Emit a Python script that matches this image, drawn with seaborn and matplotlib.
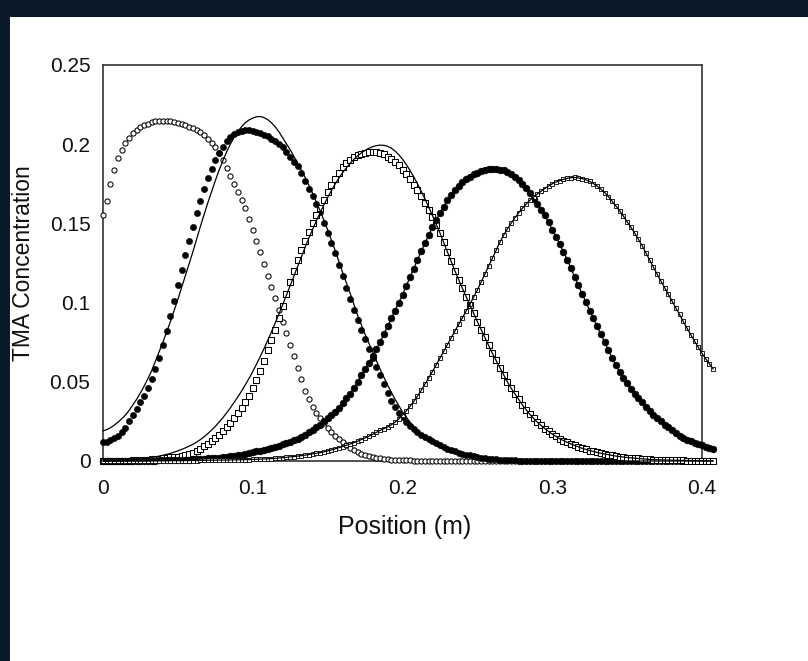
import numpy as np
import matplotlib
matplotlib.use("Agg")
import matplotlib.pyplot as plt
import seaborn as sns
from matplotlib.patches import Rectangle
from matplotlib.ticker import MultipleLocator, FuncFormatter

position = np.round(np.arange(164) * 0.0025, 4)

# Each row below covers 0.025 m (10 readings); last row has 4 readings (0.400-0.4075)

# Pulse 1 - open circles (data)
pulse1 = ([0.155, 0.164, 0.175, 0.184, 0.191, 0.1965, 0.201, 0.204, 0.207, 0.209,
           0.211, 0.212, 0.213, 0.2138, 0.2145, 0.2148, 0.2148, 0.2148, 0.2145, 0.2142,
           0.2135, 0.2128, 0.212, 0.211, 0.210, 0.2088, 0.2075, 0.2055, 0.203, 0.2005,
           0.198, 0.1945, 0.190, 0.185, 0.180, 0.175, 0.170, 0.165, 0.160, 0.153,
           0.146, 0.139, 0.132, 0.1245, 0.117, 0.110, 0.103, 0.0955, 0.088, 0.0805,
           0.073, 0.066, 0.059, 0.0515, 0.0445, 0.039, 0.034, 0.0305, 0.027, 0.024,
           0.021, 0.0185, 0.016, 0.014, 0.012, 0.010, 0.0085, 0.007, 0.0058, 0.0047,
           0.0038, 0.0031, 0.0025, 0.002, 0.0016, 0.0013, 0.001, 0.0008, 0.0007, 0.0006,
           0.0005, 0.0004, 0.0004, 0.0003, 0.0003, 0.0002, 0.0002, 0.0002, 0.0001, 0.0001,
           0.0001, 0.0001] + [0.0] * 72)

# Pulse 2 - filled markers (data)
pulse2 = ([0.012, 0.0123, 0.013, 0.0143, 0.016, 0.018, 0.021, 0.025, 0.029, 0.033,
           0.037, 0.0413, 0.046, 0.0518, 0.058, 0.065, 0.073, 0.082, 0.0915, 0.101,
           0.111, 0.1205, 0.130, 0.139, 0.148, 0.1565, 0.164, 0.1715, 0.1785, 0.1845,
           0.190, 0.1945, 0.1985, 0.2018, 0.2045, 0.2063, 0.2075, 0.2085, 0.209, 0.209,
           0.2085, 0.2078, 0.207, 0.206, 0.205, 0.2035, 0.202, 0.200, 0.198, 0.195,
           0.192, 0.189, 0.186, 0.1818, 0.177, 0.172, 0.167, 0.162, 0.157, 0.1505,
           0.144, 0.1375, 0.131, 0.124, 0.117, 0.1095, 0.102, 0.0955, 0.089, 0.083,
           0.077, 0.071, 0.065, 0.0595, 0.054, 0.0485, 0.043, 0.038, 0.034, 0.0305,
           0.0275, 0.0247, 0.022, 0.020, 0.018, 0.0165, 0.015, 0.0137, 0.0125, 0.0112,
           0.010, 0.0089, 0.0078, 0.0069, 0.006, 0.0053, 0.0046, 0.004, 0.0035, 0.003,
           0.0025, 0.0021, 0.0018, 0.0015, 0.0013, 0.0011, 0.0009, 0.0007, 0.0006, 0.0005,
           0.0004, 0.0003, 0.0003, 0.0002, 0.0002, 0.0001, 0.0001, 0.0, 0.0, 0.0]
          + [0.0] * 44)

# Pulse 2 - model (solid line)
model2 = ([0.019, 0.0198, 0.021, 0.0226, 0.0245, 0.0266, 0.029, 0.032, 0.0355, 0.039,
           0.043, 0.0473, 0.052, 0.057, 0.063, 0.069, 0.075, 0.0815, 0.088, 0.095,
           0.102, 0.1095, 0.117, 0.1245, 0.132, 0.140, 0.148, 0.1555, 0.163, 0.170,
           0.177, 0.1835, 0.1895, 0.195, 0.200, 0.2043, 0.208, 0.211, 0.2135, 0.2153,
           0.2165, 0.2173, 0.2175, 0.2168, 0.2155, 0.2135, 0.211, 0.2078, 0.204, 0.2003,
           0.1965, 0.1923, 0.188, 0.1835, 0.179, 0.174, 0.169, 0.1635, 0.158, 0.152,
           0.146, 0.1395, 0.133, 0.126, 0.119, 0.1125, 0.106, 0.099, 0.092, 0.086,
           0.080, 0.0745, 0.069, 0.0635, 0.058, 0.053, 0.048, 0.0435, 0.039, 0.035,
           0.031, 0.0277, 0.0245, 0.0217, 0.019, 0.017, 0.015, 0.013, 0.011, 0.0097,
           0.0085, 0.0075, 0.0065, 0.0056, 0.0048, 0.0041, 0.0035, 0.003, 0.0025, 0.0021,
           0.0018, 0.0015, 0.0013, 0.0011, 0.0009, 0.0007, 0.0006, 0.0005, 0.0004, 0.0003,
           0.0003, 0.0002, 0.0002, 0.0001, 0.0001, 0.0, 0.0, 0.0, 0.0, 0.0]
          + [0.0] * 44)

# Pulse 3 - open squares (data)
pulse3 = [0.0, 0.0, 0.0, 0.0001, 0.0001, 0.0001, 0.0002, 0.0003, 0.0004, 0.0005,
          0.0006, 0.0007, 0.0009, 0.0011, 0.0013, 0.0015, 0.0018, 0.002, 0.0023, 0.0025,
          0.0028, 0.0032, 0.0036, 0.0042, 0.005, 0.0062, 0.0076, 0.0092, 0.011, 0.0126,
          0.0143, 0.0165, 0.019, 0.0215, 0.024, 0.027, 0.030, 0.0333, 0.037, 0.0413,
          0.046, 0.0513, 0.057, 0.0633, 0.070, 0.0765, 0.083, 0.0903, 0.098, 0.1055,
          0.113, 0.120, 0.127, 0.133, 0.139, 0.1447, 0.150, 0.155, 0.160, 0.165,
          0.170, 0.174, 0.178, 0.182, 0.1855, 0.188, 0.190, 0.1917, 0.193, 0.1939,
          0.1945, 0.1948, 0.195, 0.1948, 0.1945, 0.1935, 0.192, 0.1905, 0.189, 0.1867,
          0.184, 0.181, 0.178, 0.1745, 0.171, 0.167, 0.163, 0.1585, 0.154, 0.149,
          0.144, 0.138, 0.132, 0.126, 0.120, 0.1145, 0.109, 0.1037, 0.0985, 0.0932,
          0.088, 0.083, 0.078, 0.073, 0.068, 0.0635, 0.059, 0.0545, 0.050, 0.046,
          0.0425, 0.039, 0.0355, 0.0325, 0.0295, 0.027, 0.0245, 0.0225, 0.0205, 0.0187,
          0.017, 0.0155, 0.014, 0.0129, 0.0118, 0.0108, 0.0098, 0.0089, 0.008, 0.0073,
          0.0066, 0.006, 0.0054, 0.0049, 0.0044, 0.004, 0.0035, 0.0031, 0.0028, 0.0025,
          0.0022, 0.002, 0.0018, 0.0016, 0.0014, 0.0012, 0.001, 0.0009, 0.0008, 0.0007,
          0.0006, 0.0006, 0.0005, 0.0005, 0.0004, 0.0004, 0.0003, 0.0003, 0.0002, 0.0002,
          0.0002, 0.0001, 0.0001, 0.0001]

# Pulse 3 - model (solid line)
model3 = [0.0, 0.0, 0.0001, 0.0001, 0.0002, 0.0003, 0.0004, 0.0005, 0.0007, 0.0009,
          0.0012, 0.0015, 0.0018, 0.0022, 0.0026, 0.0031, 0.0036, 0.0042, 0.0048, 0.0056,
          0.0064, 0.0073, 0.0083, 0.0094, 0.0105, 0.0119, 0.0135, 0.0153, 0.0173, 0.0195,
          0.0219, 0.0245, 0.0273, 0.0303, 0.0335, 0.0369, 0.0404, 0.0441, 0.048, 0.0521,
          0.0565, 0.0611, 0.0659, 0.0709, 0.0761, 0.0815, 0.0871, 0.0928, 0.0987, 0.1047,
          0.1107, 0.1168, 0.1229, 0.129, 0.135, 0.1408, 0.1463, 0.1516, 0.1567, 0.1616,
          0.1663, 0.1707, 0.1748, 0.1786, 0.182, 0.1851, 0.1879, 0.1904, 0.1926, 0.1945,
          0.1961, 0.1974, 0.1984, 0.1991, 0.1994, 0.1993, 0.1987, 0.1975, 0.1957, 0.1934,
          0.1905, 0.1872, 0.1835, 0.1794, 0.175, 0.1703, 0.1655, 0.1603, 0.155, 0.1495,
          0.144, 0.138, 0.132, 0.126, 0.120, 0.1145, 0.109, 0.1037, 0.0985, 0.0932,
          0.088, 0.083, 0.078, 0.073, 0.068, 0.0635, 0.059, 0.0545, 0.050, 0.046,
          0.0425, 0.039, 0.0355, 0.0325, 0.0295, 0.027, 0.0245, 0.0225, 0.0205, 0.0187,
          0.017, 0.0155, 0.014, 0.0129, 0.0118, 0.0108, 0.0098, 0.0089, 0.008, 0.0073,
          0.0066, 0.006, 0.0054, 0.0049, 0.0044, 0.004, 0.0035, 0.0031, 0.0028, 0.0025,
          0.0022, 0.002, 0.0018, 0.0016, 0.0014, 0.0012, 0.001, 0.0009, 0.0008, 0.0007,
          0.0006, 0.0006, 0.0005, 0.0005, 0.0004, 0.0004, 0.0003, 0.0003, 0.0002, 0.0002,
          0.0002, 0.0001, 0.0001, 0.0001]

# Pulse 4 - filled markers (data; model curve coincides)
pulse4 = [0.0, 0.0, 0.0, 0.0, 0.0, 0.0, 0.0, 0.0, 0.0001, 0.0001,
          0.0001, 0.0002, 0.0002, 0.0003, 0.0003, 0.0004, 0.0004, 0.0005, 0.0005, 0.0006,
          0.0006, 0.0007, 0.0008, 0.0009, 0.001, 0.0011, 0.0012, 0.0014, 0.0016, 0.0018,
          0.002, 0.0022, 0.0025, 0.0027, 0.003, 0.0033, 0.0036, 0.004, 0.0045, 0.005,
          0.0055, 0.006, 0.0066, 0.0072, 0.0078, 0.0084, 0.009, 0.0097, 0.0105, 0.0113,
          0.0122, 0.0132, 0.0142, 0.0153, 0.0165, 0.018, 0.0195, 0.0212, 0.023, 0.025,
          0.027, 0.029, 0.031, 0.0337, 0.0365, 0.0395, 0.0425, 0.046, 0.050, 0.054,
          0.058, 0.062, 0.066, 0.0705, 0.075, 0.080, 0.085, 0.090, 0.095, 0.100,
          0.105, 0.1105, 0.116, 0.1215, 0.127, 0.1323, 0.1375, 0.1426, 0.1475, 0.1521,
          0.1565, 0.1606, 0.1645, 0.1679, 0.171, 0.1737, 0.176, 0.178, 0.1795, 0.1809,
          0.182, 0.1829, 0.1837, 0.1842, 0.1845, 0.1844, 0.184, 0.1834, 0.1825, 0.1812,
          0.1795, 0.1774, 0.175, 0.1722, 0.169, 0.1657, 0.162, 0.1587, 0.155, 0.1507,
          0.146, 0.1415, 0.137, 0.132, 0.127, 0.1216, 0.116, 0.1108, 0.1055, 0.1003,
          0.095, 0.090, 0.085, 0.080, 0.075, 0.070, 0.065, 0.0605, 0.0563, 0.0525,
          0.049, 0.0457, 0.0425, 0.0397, 0.037, 0.0342, 0.0315, 0.0292, 0.027, 0.025,
          0.023, 0.0212, 0.0195, 0.0177, 0.016, 0.0147, 0.0135, 0.0125, 0.0115, 0.0106,
          0.0098, 0.009, 0.0082, 0.0075]

# Pulse 5 - small open squares (data; model curve coincides)
pulse5 = [0.0, 0.0, 0.0, 0.0, 0.0, 0.0, 0.0, 0.0, 0.0, 0.0,
          0.0, 0.0, 0.0, 0.0001, 0.0001, 0.0001, 0.0001, 0.0001, 0.0002, 0.0002,
          0.0002, 0.0002, 0.0003, 0.0003, 0.0003, 0.0003, 0.0004, 0.0004, 0.0005, 0.0005,
          0.0005, 0.0006, 0.0006, 0.0006, 0.0007, 0.0007, 0.0008, 0.0008, 0.0009, 0.0009,
          0.001, 0.0011, 0.0012, 0.0013, 0.0014, 0.0015, 0.0017, 0.0019, 0.0021, 0.0023,
          0.0026, 0.0028, 0.0031, 0.0034, 0.0037, 0.0041, 0.0045, 0.0049, 0.0053, 0.0058,
          0.0064, 0.007, 0.0077, 0.0084, 0.0091, 0.0099, 0.0107, 0.0116, 0.0125, 0.0135,
          0.0145, 0.0156, 0.0168, 0.018, 0.0193, 0.0204, 0.0215, 0.0229, 0.0245, 0.0265,
          0.029, 0.0316, 0.0345, 0.0376, 0.041, 0.0446, 0.0485, 0.0525, 0.0565, 0.0607,
          0.065, 0.0692, 0.0735, 0.0777, 0.082, 0.0862, 0.0905, 0.0947, 0.099, 0.1035,
          0.108, 0.113, 0.118, 0.123, 0.128, 0.133, 0.138, 0.1425, 0.1465, 0.150,
          0.1535, 0.1566, 0.1595, 0.1621, 0.1645, 0.1666, 0.1685, 0.1703, 0.172, 0.1736,
          0.175, 0.1761, 0.177, 0.1778, 0.1785, 0.1788, 0.179, 0.1787, 0.1783, 0.1775,
          0.1765, 0.1751, 0.1735, 0.1716, 0.1695, 0.1669, 0.164, 0.161, 0.158, 0.1546,
          0.151, 0.1476, 0.144, 0.140, 0.136, 0.1315, 0.127, 0.1225, 0.118, 0.1137,
          0.1095, 0.1053, 0.101, 0.0967, 0.0925, 0.0881, 0.0838, 0.0797, 0.0757, 0.0718,
          0.068, 0.0645, 0.0612, 0.058]

x_ticks = [0, 0.1, 0.2, 0.3, 0.4]
y_ticks = [0, 0.05, 0.1, 0.15, 0.2, 0.25]

sns.set_style("white")
plt.rcParams["font.family"] = ["Liberation Sans", "DejaVu Sans"]

W, H = 808, 661
fig = plt.figure(figsize=(W / 100, H / 100), dpi=100)
fig.patch.set_facecolor("#0b1a2b")
panel = Rectangle((10 / W, 0), 1, 1 - 17 / H, transform=fig.transFigure,
                  facecolor="white", edgecolor="none", zorder=-10)
fig.patches.append(panel)

ax = fig.add_axes([103 / W, 1 - 461 / H, 599 / W, 396 / H])
ax.set_zorder(5)
ax.set_facecolor("white")

lw = 0.9
# model lines
for yv in (model2, model3, pulse4, pulse5):
    sns.lineplot(x=position, y=yv, estimator=None, sort=False, color="black",
                 linewidth=lw, ax=ax, zorder=4, clip_on=False)

# data markers
sns.scatterplot(x=position, y=pulse1, marker="o", s=14, color="white",
                edgecolor="black", linewidth=0.75, ax=ax, zorder=3, clip_on=False)
sns.scatterplot(x=position, y=pulse2, marker="o", s=20, color="black",
                edgecolor="black", linewidth=0.4, ax=ax, zorder=3, clip_on=False)
sns.scatterplot(x=position, y=pulse3, marker="s", s=13, color="white",
                edgecolor="black", linewidth=0.75, ax=ax, zorder=3, clip_on=False)
sns.scatterplot(x=position, y=pulse4, marker="o", s=24, color="black",
                edgecolor="black", linewidth=0.4, ax=ax, zorder=3, clip_on=False)
sns.scatterplot(x=position, y=pulse5, marker="s", s=8, color="white",
                edgecolor="black", linewidth=0.6, ax=ax, zorder=3, clip_on=False)

ax.set_xlim(0, 0.4)
ax.set_ylim(0, 0.25)
ax.set_xticks(x_ticks)
ax.set_yticks(y_ticks)
fmt = FuncFormatter(lambda v, p: f"{v:g}")
ax.xaxis.set_major_formatter(fmt)
ax.yaxis.set_major_formatter(fmt)
ax.yaxis.set_minor_locator(MultipleLocator(0.025))
ax.tick_params(axis="both", which="both", direction="in", length=5, width=1,
               color="#222222", labelsize=15, labelcolor="#111111",
               top=False, right=False)
ax.tick_params(axis="x", pad=13)
ax.tick_params(axis="y", pad=9)
for sp in ax.spines.values():
    sp.set_visible(True)
    sp.set_color("#333333")
    sp.set_linewidth(1.2)

ax.set_xlabel("Position (m)", fontsize=18, color="#111111")
ax.set_ylabel("TMA Concentration", fontsize=16.5, color="#111111")
ax.xaxis.set_label_coords((405 - 103) / 599, (461 - 515) / 396)
ax.yaxis.set_label_coords((35 - 103) / 599, (461 - 263) / 396)

fig.savefig("out.png", dpi=100, facecolor=fig.get_facecolor())
